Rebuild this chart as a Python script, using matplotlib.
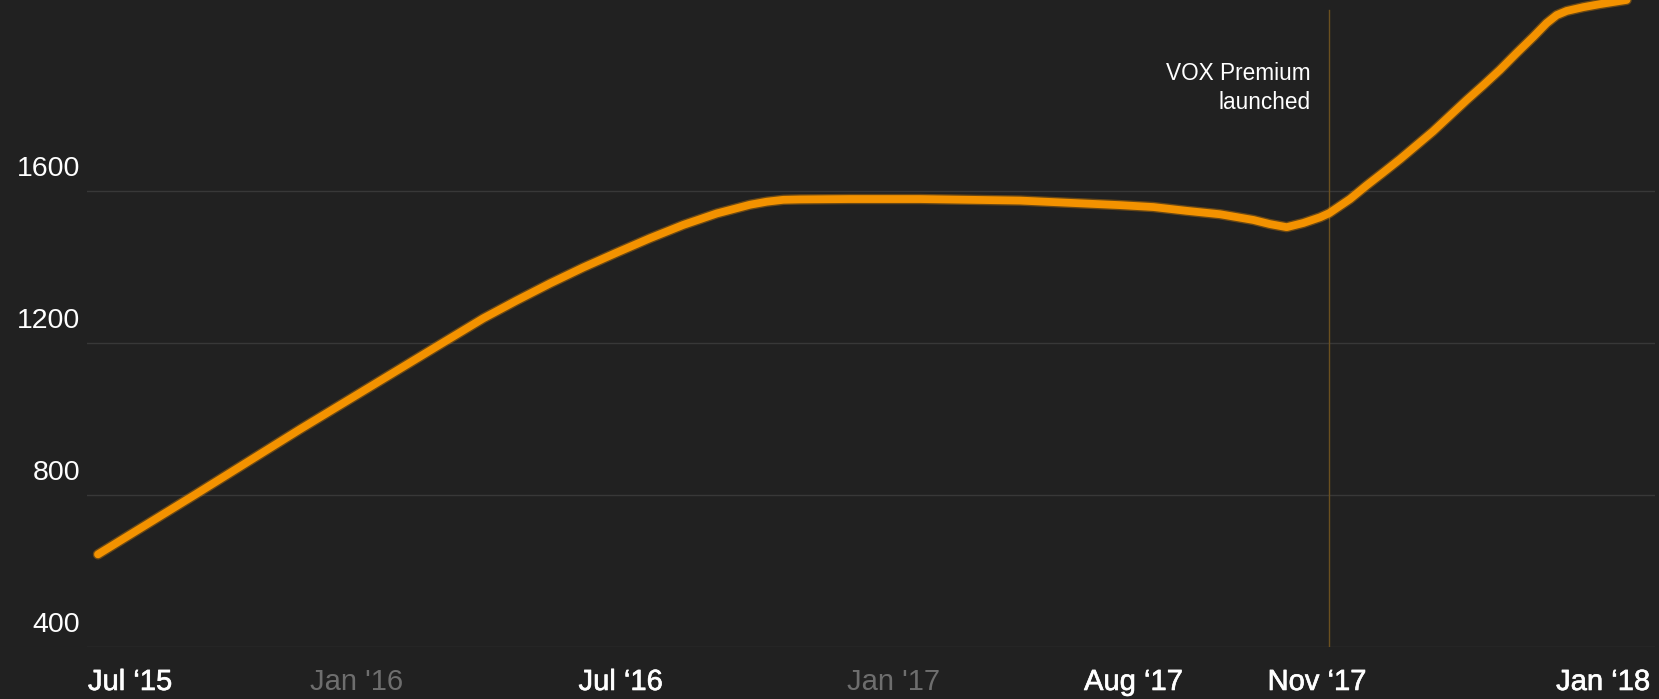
import matplotlib.pyplot as plt
from matplotlib import transforms
from matplotlib import patheffects

# position along the timeline (0-100 across the plot) and value
pos = [0.70, 6.89, 13.58, 22.70, 25.27, 27.40, 29.53, 31.65, 33.78, 35.91,
       38.03, 40.16, 42.28, 43.35, 44.41, 45.47, 48.66, 53.12, 59.50, 65.88,
       68.00, 70.13, 72.26, 74.38, 75.45, 76.51, 77.57, 78.64, 79.23, 80.55,
       81.61, 82.67, 83.74, 85.84, 88.00, 89.06, 90.11, 91.17, 92.24, 93.09,
       93.73, 94.37, 95.43, 96.49, 98.19]
values = [643, 800, 972, 1200, 1264, 1311, 1356, 1398, 1437, 1475,
          1510, 1540, 1563, 1571, 1576, 1577, 1578, 1578, 1574, 1562,
          1557, 1547, 1538, 1523, 1512, 1504, 1515, 1530, 1541, 1578,
          1614, 1648, 1683, 1756, 1839, 1878, 1918, 1962, 2005, 2041,
          2062, 2073, 2083, 2091, 2102]

y_ticks = [400, 800, 1200, 1600]

tick_pos = [0.06, 17.18, 34.03, 51.46, 66.73, 78.44, 99.68]
tick_labels = ["Jul \u201815", "Jan '16", "Jul \u201816", "Jan '17",
               "Aug \u201817", "Nov \u201817", "Jan \u201818"]
tick_dim = [False, True, False, True, False, False, False]

event_pos = 79.21
event_label = "VOX Premium\nlaunched"

bg = '#212121'
orange = '#f39200'

plt.rcParams['font.family'] = ['Liberation Sans', 'DejaVu Sans']

fig = plt.figure(figsize=(16.59, 6.99), dpi=100, facecolor=bg)
ax = fig.add_axes([87 / 1659, 52.3 / 699, 1568 / 1659, 646.7 / 699])
ax.set_facecolor(bg)
ax.set_xlim(0, 100)
ax.set_ylim(400, 2101.8)
ax.axis('off')

# grid lines
for v in y_ticks:
    ax.axhline(v, color='#383838', linewidth=1.0, zorder=1)

# y labels, sitting above their grid lines
lab_tr = transforms.blended_transform_factory(fig.transFigure, ax.transData)
lab_tr = transforms.offset_copy(lab_tr, fig=fig, y=14.5, units='dots')
for v in y_ticks:
    ax.text(80 / 1659, v, str(v), transform=lab_tr, ha='right', va='baseline',
            fontsize=20.5, color='white', clip_on=False)

# x labels (bright ones a bit heavier)
x_tr = transforms.blended_transform_factory(ax.transData, fig.transFigure)
for i in range(len(tick_pos)):
    ha = 'center'
    if i == 0:
        ha = 'left'
    if i == len(tick_pos) - 1:
        ha = 'right'
    if tick_dim[i]:
        ax.text(tick_pos[i], 9 / 699, tick_labels[i], transform=x_tr, ha=ha,
                va='baseline', fontsize=21, color='#6e6e6e', clip_on=False)
    else:
        ax.text(tick_pos[i], 9 / 699, tick_labels[i], transform=x_tr, ha=ha,
                va='baseline', fontsize=21, color='white', clip_on=False,
                path_effects=[patheffects.withStroke(linewidth=0.45, foreground='white')])

# event marker
ax.plot([event_pos, event_pos], [400, 2075], color='#6b5020', linewidth=1.0, zorder=2)
ax.text(event_pos - 1.15, 1870, event_label, ha='right', va='center',
        fontsize=16.3, color='white', linespacing=1.35)

# the line, with a soft edge
ax.plot(pos, values, color=orange, linewidth=7.5, alpha=0.35,
        solid_capstyle='round', solid_joinstyle='round', zorder=3, clip_on=False)
ax.plot(pos, values, color=orange, linewidth=5.6,
        solid_capstyle='round', solid_joinstyle='round', zorder=4, clip_on=False)

fig.savefig('out.png', dpi=100, facecolor=bg)
